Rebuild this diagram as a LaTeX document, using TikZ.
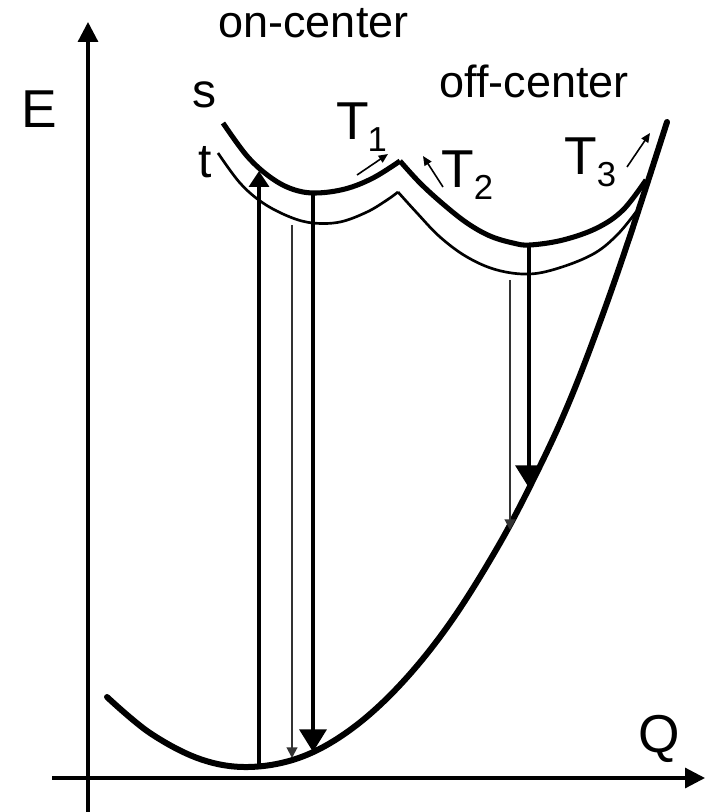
\documentclass[tikz,border=0pt]{standalone}
\usepackage{fontspec}
\setmainfont{Liberation Sans}
\usetikzlibrary{arrows.meta}
\begin{document}
\begin{tikzpicture}[x=0.75pt,y=-0.75pt,line join=round,
  axis/.style={line width=2.4pt,-{Triangle[length=15pt,width=15pt]}},
  ground/.style={line width=4.5pt,line cap=round},
  scurve/.style={line width=3.8pt,line cap=butt},
  tcurve/.style={line width=2pt,line cap=butt},
  uparrow/.style={line width=2.6pt,-{Triangle[length=12pt,width=15pt]}},
  thickdown/.style={line width=3.4pt,-{Triangle[length=17pt,width=20pt]}},
  thindown/.style={line width=1.5pt,black!80,-{Triangle[length=8pt,width=8pt]}},
  tarrow/.style={line width=1.2pt,-{Triangle[length=7pt,width=6pt]}},
  biglab/.style={inner sep=0,anchor=base,font=\fontsize{40}{40}\selectfont},
  midlab/.style={inner sep=0,anchor=base,font=\fontsize{36}{36}\selectfont},
  toplab/.style={inner sep=0,anchor=base,font=\fontsize{33.75}{34}\selectfont},
  tlab/.style={inner sep=0,anchor=base west,font=\fontsize{40}{40}\selectfont}]
\useasboundingbox (0,0) rectangle (706,812);

% axes
\coordinate (ybot) at (88,812);
\coordinate (ytop) at (88,22);
\coordinate (xleft) at (52,778);
\coordinate (xright) at (705,778);
\draw[axis] (ybot) -- (ytop);
\draw[axis] (xleft) -- (xright);

% ground-state curve
\draw[ground] plot[smooth,tension=0.6] coordinates {(107,697) (150,733) (200,759) (248,767) (300,757.5) (350,730) (400,685) (450,623) (500,543) (540,466) (570,400) (600,322) (630,236) (667,122)};

% s curve (thick)
\draw[scurve] plot[smooth,tension=0.6] coordinates {(223,123) (247,156) (270,177) (292,189) (315,193) (345,189) (373,178) (400,161)};
\draw[scurve] plot[smooth,tension=0.6] coordinates {(400,161) (420,183) (443,204) (467,223) (490,236) (513,243) (530,245) (563,240) (597,228) (623,210) (646,180)};

% t curve (thin)
\draw[tcurve] plot[smooth,tension=0.6] coordinates {(218,153) (240,183) (263,203) (290,217) (313,223) (340,222) (367,212) (387,200) (398,192)};
\draw[tcurve] plot[smooth,tension=0.6] coordinates {(398,192) (417,213) (440,237) (467,257) (497,270) (530,274) (562,267) (595,253) (618,234) (636,212)};

% vertical transitions
\coordinate (a0) at (259,767);
\coordinate (a1) at (259,171);
\draw[uparrow] (a0) -- (a1);

\coordinate (b0) at (292,225);
\coordinate (b1) at (292,758);
\draw[thindown] (b0) -- (b1);

\coordinate (c0) at (313,193);
\coordinate (c1) at (313,752);
\draw[thickdown] (c0) -- (c1);

\coordinate (d0) at (529,245);
\coordinate (d1) at (529,488);
\draw[thickdown] (d0) -- (d1);

\coordinate (e0) at (510,280);
\coordinate (e1) at (510,530);
\draw[thindown] (e0) -- (e1);

% small thermal arrows
\coordinate (t1a) at (357,175);
\coordinate (t1b) at (388,154);
\draw[tarrow] (t1a) -- (t1b);
\coordinate (t2a) at (443,187);
\coordinate (t2b) at (423,156);
\draw[tarrow] (t2a) -- (t2b);
\coordinate (t3a) at (627,167);
\coordinate (t3b) at (650,133);
\draw[tarrow] (t3a) -- (t3b);

% labels
\node[biglab] (E) at (39,128) {E};
\node[biglab] (Q) at (659,752) {Q};
\node[toplab] (on) at (313.5,38) {on-center};
\node[toplab] (off) at (534,98) {off-center};
\node[midlab] (s) at (204,108) {s};
\node[midlab] (t) at (205,178) {t};
\node[tlab] (T1) at (336,140) {T\kern-1pt\raisebox{-9pt}{\fontsize{26}{26}\selectfont 1}};
\node[tlab] (T2) at (441,188) {T\raisebox{-9pt}{\fontsize{26}{26}\selectfont 2}};
\node[tlab] (T3) at (564,175) {T\raisebox{-9pt}{\fontsize{26}{26}\selectfont 3}};
\end{tikzpicture}
\end{document}
